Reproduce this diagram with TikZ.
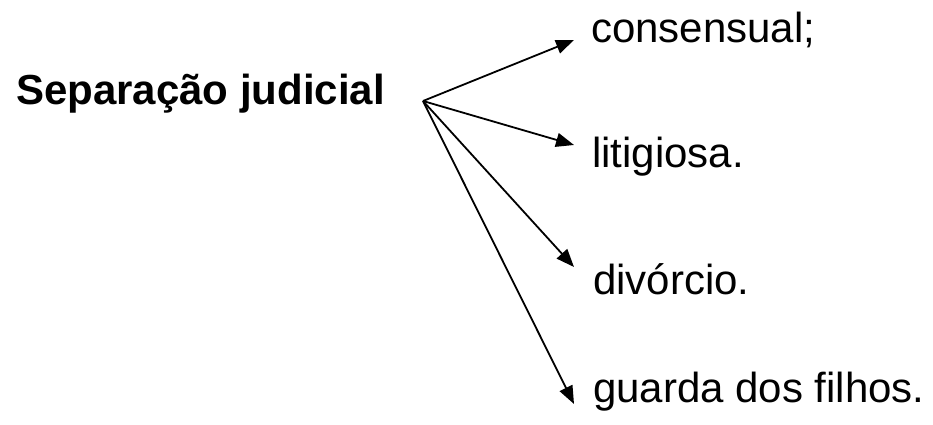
\documentclass[tikz,border=0pt]{standalone}
\usepackage{fontspec}
\setmainfont{Liberation Sans}
\usetikzlibrary{arrows.meta}
\begin{document}
\begin{tikzpicture}[x=1pt,y=-1pt,
  label text/.style={anchor=base west,inner sep=0pt,font=\fontsize{42}{50}\selectfont},
  branch/.style={line width=1.8pt,-{Triangle[length=18pt,width=14pt]}}]
\useasboundingbox[fill=white] (0,0) rectangle (933,425);
% heading and its four branches
\node[label text,font=\fontsize{42}{50}\selectfont\bfseries] (head) at (16,105) {Separação judicial};
\node[label text] (c1) at (591,43) {consensual;};
\node[label text] (c2) at (592,167) {litigiosa.};
\node[label text] (c3) at (593,294) {divórcio.};
\node[label text] (c4) at (593,402) {guarda dos filhos.};
\coordinate (root) at (423,101);
\coordinate (t1) at (574,40);
\coordinate (t2) at (574,145);
\coordinate (t3) at (574,267);
\coordinate (t4) at (574,404);
\foreach \t in {t1,t2,t3,t4} \draw[branch] (root) -- (\t);
\end{tikzpicture}
\end{document}
